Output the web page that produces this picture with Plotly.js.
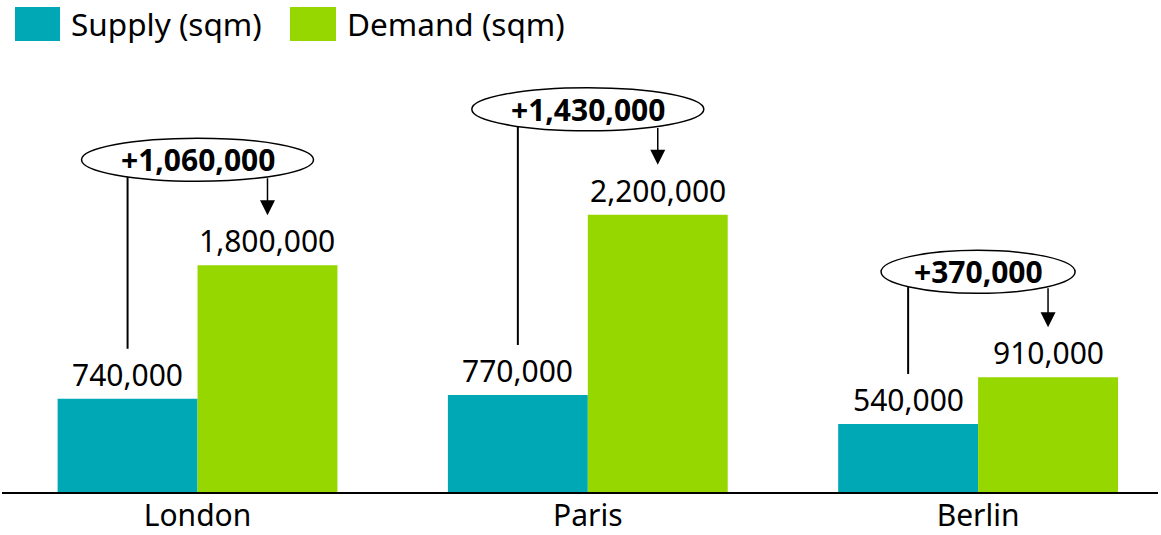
<!DOCTYPE html>
<html>
<head>
<meta charset="utf-8">
<script src="https://cdn.plot.ly/plotly-3.0.1.min.js"></script>
<style>html,body{margin:0;padding:0;background:#fff;}#chart{width:1161px;height:535px;}</style>
</head>
<body>
<div id="chart"></div>
<script>
// ---- data ----
const categories = ['London', 'Paris', 'Berlin'];
const supplyValues = [740000, 770000, 540000];
const demandValues = [1800000, 2200000, 910000];
const seriesNames = ['Supply (sqm)', 'Demand (sqm)'];

// ---- style ----
const supplyColor = '#00A8B5';
const demandColor = '#97D700';
const FONT = 'Noto Sans, Open Sans, sans-serif';
const W = 1161, H = 535, ML = 2, MR = 3, MT = 50, MB = 43;
const plotW = W - ML - MR, plotH = H - MT - MB;
const yMax = 3.508e6;
const xRange = [-0.501, 2.461];
const bargap = 0.283;
const ppu = plotH / yMax;                       // pixels per data unit (y)
const pxPerCat = plotW / (xRange[1] - xRange[0]);
const barOff = (1 - bargap) / 4;                // centre offset of each bar in a group
const offPx = barOff * pxPerCat;

const fmt = v => v.toLocaleString('en-US');
const xIdx = categories.map((c, i) => i);

const traces = [
  {type: 'bar', name: seriesNames[0], x: xIdx, y: supplyValues,
   marker: {color: supplyColor}, hoverinfo: 'none'},
  {type: 'bar', name: seriesNames[1], x: xIdx, y: demandValues,
   marker: {color: demandColor}, hoverinfo: 'none'}
];

const shapes = [];
const annotations = [];
const ellCenter = 105.5, ellHalfH = 21.5;

categories.forEach((c, i) => {
  const s = supplyValues[i], d = demandValues[i];
  const label = '+' + fmt(d - s);
  const halfW = (19 * label.length + 42) / 2;
  // connector from supply label up into the ellipse
  shapes.push({type: 'line', xref: 'x', yref: 'y',
    x0: i - barOff, x1: i - barOff,
    y0: s + 50 / ppu, y1: d + ellCenter / ppu,
    line: {color: '#000', width: 2}});
  // ellipse
  shapes.push({type: 'circle', xref: 'x', yref: 'y',
    xsizemode: 'pixel', ysizemode: 'pixel', xanchor: i, yanchor: d,
    x0: -halfW, x1: halfW, y0: ellCenter - ellHalfH, y1: ellCenter + ellHalfH,
    fillcolor: '#fff', line: {color: '#000', width: 1.5}});
  // arrow down to the demand label
  const edge = ellCenter - ellHalfH * Math.sqrt(Math.max(0, 1 - Math.pow(offPx / halfW, 2)));
  annotations.push({xref: 'x', yref: 'y', x: i + barOff, y: d, ax: 0, ay: -edge,
    text: '', showarrow: true, arrowhead: 2, arrowsize: 2, arrowwidth: 1.5,
    arrowcolor: '#000', standoff: 50});
  // difference label
  annotations.push({xref: 'x', yref: 'y', x: i, y: d, yshift: ellCenter,
    text: '<b>' + label + '</b>', showarrow: false, yanchor: 'middle', xanchor: 'center',
    font: {family: FONT, size: 30, color: '#000'}});
  // value labels
  [[s, i - barOff], [d, i + barOff]].forEach(([v, xp]) => {
    annotations.push({xref: 'x', yref: 'y', x: xp, y: v, yshift: 2,
      text: fmt(v), showarrow: false, yanchor: 'bottom', xanchor: 'center',
      font: {family: FONT, size: 30, color: '#000'}});
  });
});

// custom legend (large swatches)
const px2paperX = px => (px - ML) / plotW;
const px2paperY = py => (H - MB - py) / plotH;
const legendItems = [
  {name: seriesNames[0], color: supplyColor, x0: 15, x1: 60, tx: 69},
  {name: seriesNames[1], color: demandColor, x0: 290, x1: 336, tx: 345}
];
legendItems.forEach(it => {
  shapes.push({type: 'rect', xref: 'paper', yref: 'paper',
    x0: px2paperX(it.x0), x1: px2paperX(it.x1), y0: px2paperY(41), y1: px2paperY(7),
    fillcolor: it.color, line: {width: 0}});
  annotations.push({xref: 'paper', yref: 'paper', x: px2paperX(it.tx), y: px2paperY(24),
    text: it.name, showarrow: false, xanchor: 'left', yanchor: 'middle',
    font: {family: FONT, size: 31.5, color: '#000'}});
});

const layout = {
  width: W, height: H,
  margin: {l: ML, r: MR, t: MT, b: MB, pad: 0},
  paper_bgcolor: '#fff', plot_bgcolor: '#fff',
  barmode: 'group', bargap: bargap, bargroupgap: 0,
  showlegend: false,
  xaxis: {type: 'linear', range: xRange, tickvals: xIdx, ticktext: categories,
    showgrid: false, zeroline: false, showline: true, linecolor: '#000', linewidth: 2,
    ticks: '', ticklabelstandoff: -4, tickfont: {family: FONT, size: 30, color: '#000'},
    automargin: false, fixedrange: true},
  yaxis: {range: [0, yMax], showgrid: false, zeroline: false, showline: false,
    showticklabels: false, ticks: '', automargin: false, fixedrange: true},
  shapes: shapes,
  annotations: annotations,
  font: {family: FONT, color: '#000'}
};

Plotly.newPlot('chart', traces, layout, {displayModeBar: false, staticPlot: true});
</script>
</body>
</html>
